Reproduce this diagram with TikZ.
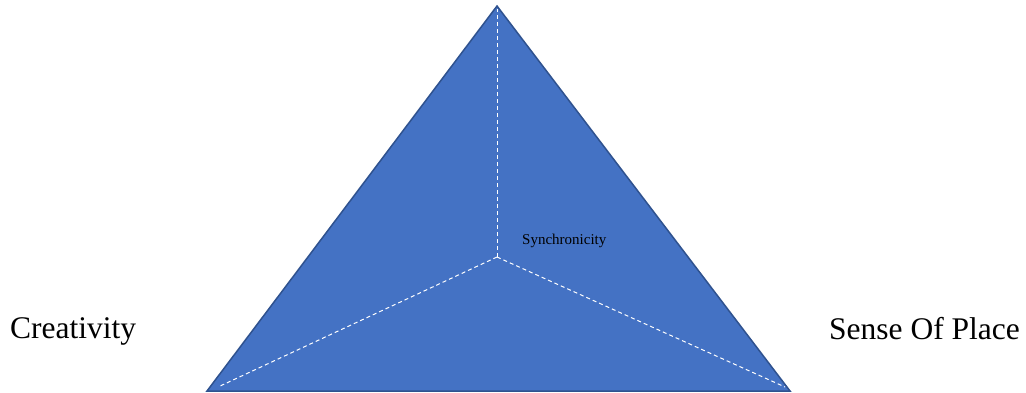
\documentclass[tikz,border=0pt]{standalone}
\usepackage{fontspec}
\setmainfont{Liberation Serif}
\definecolor{triFill}{HTML}{4472C4}
\definecolor{triEdge}{HTML}{2F528F}
\begin{document}
\begin{tikzpicture}[x=1pt,y=-1pt,
  lbl/.style={inner sep=0pt,anchor=base west,font=\fontsize{31.5}{36}\selectfont},
  divider/.style={draw=white,dashed,line width=1pt,dash pattern=on 4pt off 3pt}]
\useasboundingbox (0,0) rectangle (1026,392);
\coordinate (apex) at (497,6);
\coordinate (bl) at (207,391);
\coordinate (br) at (790,391);
\coordinate (ctr) at (497,257);
\coordinate (dl) at (218,387);
\coordinate (dr) at (785,387);
\coordinate (dt) at (497,9);
\fill[triFill] (apex) -- (br) -- (bl) -- cycle;
\draw[triEdge,line width=1.5pt,line join=miter] (apex) -- (br) -- (bl) -- cycle;
\draw[divider] (ctr) -- (dt);
\draw[divider] (ctr) -- (dl);
\draw[divider] (ctr) -- (dr);
\node[inner sep=0pt,anchor=base west,font=\fontsize{15}{18}\selectfont] (sync) at (522,244) {Synchronicity};
\node[lbl] (crea) at (10,338) {Creativity};
\node[lbl] (sop) at (829,339) {Sense Of Place};
\end{tikzpicture}
\end{document}
